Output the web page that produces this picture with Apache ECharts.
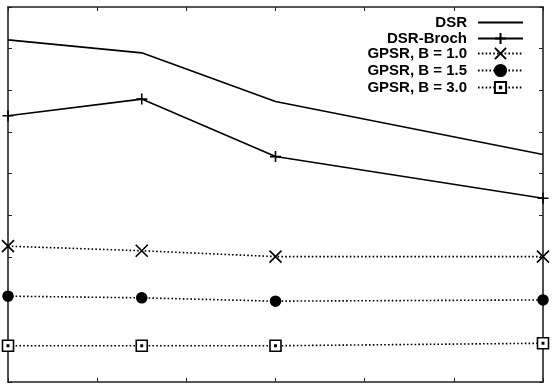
<!DOCTYPE html>
<html><head><meta charset="utf-8">
<script src="https://cdn.jsdelivr.net/npm/echarts@6/dist/echarts.min.js"></script>
<style>html,body{margin:0;padding:0;background:#fff}#c{width:555px;height:389px}</style>
</head><body><div id="c"></div>
<script>
const xValues = [0, 1.5, 3, 6];
const seriesNames = ['DSR', 'DSR-Broch', 'GPSR, B = 1.0', 'GPSR, B = 1.5', 'GPSR, B = 3.0'];
const dsr = [8.21, 7.90, 6.73, 5.46];
const dsrBroch = [6.39, 6.79, 5.41, 4.41];
const gpsr10 = [3.26, 3.15, 3.01, 3.01];
const gpsr15 = [2.06, 2.02, 1.94, 1.97];
const gpsr30 = [0.87, 0.87, 0.87, 0.93];
const allValues = [dsr, dsrBroch, gpsr10, gpsr15, gpsr30];

const symbols = [
  'circle',
  'path://M0,5L10,5M5,0L5,10',
  'path://M0,0L10,10M10,0L0,10',
  'circle',
  'path://M0,0H10V10H0ZM4.4,4.4H5.6V5.6H4.4Z'
];
const symbolSizes = [0, 11, 12, 10, 11];
const dashed = [false, false, true, true, true];
const fills = ['transparent', '#000', '#000', '#000', '#fff'];
const borders = [0, 1.6, 1.6, 1.5, 1.6];

const chart = echarts.init(document.getElementById('c'), null, {renderer: 'canvas'});
const axisCommon = {
  axisLine: {show: true, onZero: false, lineStyle: {color: '#222', width: 1.6}},
  axisTick: {show: true, inside: true, length: 4, lineStyle: {color: '#222', width: 1}},
  axisLabel: {show: false},
  splitLine: {show: false}
};
const series = seriesNames.map((n, i) => ({
  name: n,
  type: 'line',
  clip: false,
  data: xValues.map((x, j) => [x, allValues[i][j]]),
  symbol: symbols[i],
  symbolSize: symbolSizes[i],
  showSymbol: i > 0,
  lineStyle: {color: '#000', width: 1.6, type: dashed[i] ? [1.6, 2.2] : 'solid'},
  itemStyle: {color: fills[i], borderColor: i === 0 ? 'transparent' : '#000', borderWidth: borders[i]},
  emphasis: {disabled: true},
  animation: false
}));
const legendTops = [15, 31, 46, 63, 80];
const legends = seriesNames.map((n, i) => ({
  data: [n],
  orient: 'vertical',
  right: 31,
  top: legendTops[i],
  align: 'right',
  padding: 0,
  itemWidth: 45,
  itemHeight: 14,
  textStyle: {fontFamily: 'Liberation Sans, Arial', fontWeight: 'bold', fontSize: 15, color: '#000', padding: [0, 6, 0, 0]},
  selectedMode: false
}));
chart.setOption({
  animation: false,
  backgroundColor: '#fff',
  grid: {left: 8, right: 12, top: 7, bottom: 7, containLabel: false},
  xAxis: [
    Object.assign({type: 'value', min: 0, max: 6, interval: 1, position: 'bottom'}, axisCommon),
    Object.assign({type: 'value', min: 0, max: 6, interval: 1, position: 'top'}, axisCommon)
  ],
  yAxis: [
    Object.assign({type: 'value', min: 0, max: 9, interval: 1, position: 'left'}, axisCommon),
    Object.assign({type: 'value', min: 0, max: 9, interval: 1, position: 'right'}, axisCommon)
  ],
  legend: legends,
  series: series
});
</script></body></html>
